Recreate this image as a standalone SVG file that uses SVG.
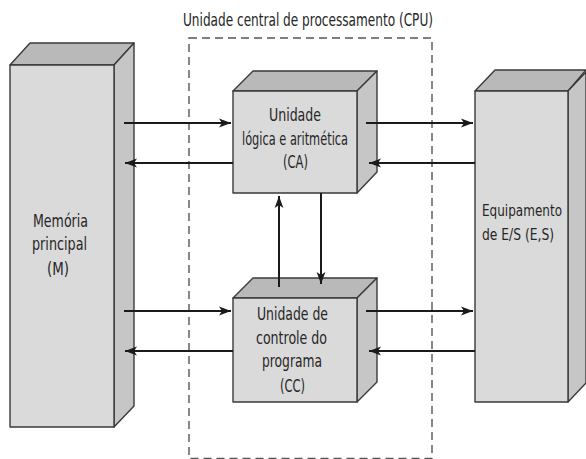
<svg xmlns="http://www.w3.org/2000/svg" width="586" height="459" viewBox="0 0 586 459">
<style>
.front{fill:#dadada;stroke:#3a3a3a;stroke-width:1.4;stroke-linejoin:round}
.top{fill:#b9b9b9;stroke:#3a3a3a;stroke-width:1.4;stroke-linejoin:round}
.side{fill:#c6c6c6;stroke:#3a3a3a;stroke-width:1.4;stroke-linejoin:round}
.t{font-family:"Liberation Sans Narrow","DejaVu Sans Condensed","Liberation Sans",sans-serif;font-size:18px;fill:#262626}
.s{font-size:16.5px}
.c{text-anchor:middle}
.arr{stroke:#1a1a1a;stroke-width:2;fill:none;marker-end:url(#ah)}
</style>
<defs>
<marker id="ah" markerWidth="14" markerHeight="10" refX="12" refY="5" orient="auto" markerUnits="userSpaceOnUse">
<path d="M0,0.6 L12,5 L0,9.4 L3,5 z" fill="#1a1a1a"/>
</marker>
</defs>
<rect width="586" height="459" fill="#fff"/>
<g id="cpu">
<rect x="189" y="38" width="243" height="420.5" fill="none" stroke="#555" stroke-width="1.4" stroke-dasharray="8,5"/>
<text class="t c" x="308" y="26" textLength="250" lengthAdjust="spacingAndGlyphs">Unidade central de processamento (CPU)</text>
</g>
<g id="memoria">
<polygon class="top" points="10,65 30,43 134,43 114,65"/>
<polygon class="side" points="114,65 134,43 134,406 114,427"/>
<rect class="front" x="10" y="65" width="104" height="362"/>
<text class="t c" x="60.5" y="227" textLength="55" lengthAdjust="spacingAndGlyphs">Memória</text>
<text class="t c" x="59.5" y="250" textLength="55" lengthAdjust="spacingAndGlyphs">principal</text>
<text class="t c" x="58" y="275" textLength="22" lengthAdjust="spacingAndGlyphs">(M)</text>
</g>
<g id="ca">
<polygon class="top" points="233,91 253,71 377,71 357,91"/>
<polygon class="side" points="357,91 377,71 377,172 357,193"/>
<rect class="front" x="233" y="91" width="124" height="102"/>
<text class="t c" x="295" y="121" textLength="52" lengthAdjust="spacingAndGlyphs">Unidade</text>
<text class="t c" x="295" y="145" textLength="106" lengthAdjust="spacingAndGlyphs">lógica e aritmética</text>
<text class="t c" x="295.5" y="168" textLength="25" lengthAdjust="spacingAndGlyphs">(CA)</text>
</g>
<g id="cc">
<polygon class="top" points="233,298 253,278 377,278 357,298"/>
<polygon class="side" points="357,298 377,278 377,382 357,402"/>
<rect class="front" x="233" y="298" width="124" height="104"/>
<text class="t c" x="292.5" y="320" textLength="71" lengthAdjust="spacingAndGlyphs">Unidade de</text>
<text class="t c" x="291.5" y="344" textLength="71" lengthAdjust="spacingAndGlyphs">controle do</text>
<text class="t c" x="292" y="367" textLength="60" lengthAdjust="spacingAndGlyphs">programa</text>
<text class="t c" x="292.5" y="392" textLength="25" lengthAdjust="spacingAndGlyphs">(CC)</text>
</g>
<g id="es">
<polygon class="top" points="475,91 495,70 586,70 568,91"/>
<polygon class="side" points="568,91 586,72 586,383 568,402"/>
<rect class="front" x="475" y="91" width="93" height="311"/>
<text class="t s" x="482" y="216" textLength="80" lengthAdjust="spacingAndGlyphs">Equipamento</text>
<text class="t s" x="482" y="240" textLength="72" lengthAdjust="spacingAndGlyphs">de E/S (E,S)</text>
</g>
<g id="connectors">
<line class="arr" x1="124" y1="123" x2="231" y2="123"/>
<line class="arr" x1="233" y1="163" x2="125" y2="163"/>
<line class="arr" x1="366" y1="123" x2="473" y2="123"/>
<line class="arr" x1="475" y1="163" x2="369" y2="163"/>
<line class="arr" x1="124" y1="311" x2="231" y2="311"/>
<line class="arr" x1="233" y1="351" x2="125" y2="351"/>
<line class="arr" x1="366" y1="311" x2="473" y2="311"/>
<line class="arr" x1="475" y1="351" x2="369" y2="351"/>
<line class="arr" x1="279" y1="287" x2="279" y2="196"/>
<line class="arr" x1="321" y1="193" x2="321" y2="284"/>
</g>
</svg>
